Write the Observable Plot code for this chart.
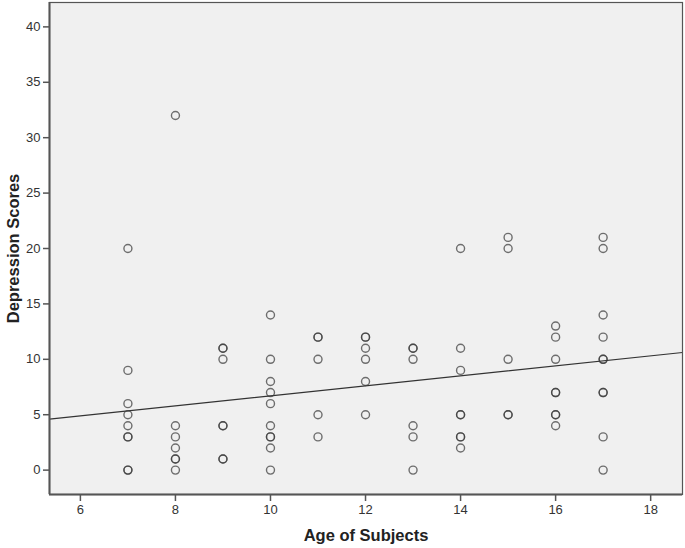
<!DOCTYPE html>
<html>
<head>
<meta charset="utf-8">
<script src="https://cdn.jsdelivr.net/npm/d3@7"></script>
<script src="https://cdn.jsdelivr.net/npm/@observablehq/plot@0.6"></script>
<style>
  html, body { margin: 0; padding: 0; background: #fff; }
  #chart svg { display: block; }
  g[aria-label="x-axis tick label"], g[aria-label="y-axis tick label"],
  g[aria-label="x-axis tick label"] text, g[aria-label="y-axis tick label"] text {
    font-size: 13px; fill: #333;
  }
  g[aria-label="x-axis label"] text, g[aria-label="y-axis label"] text {
    font-weight: bold; font-size: 16.5px; fill: #222;
  }
</style>
</head>
<body>
<div id="chart"></div>
<script>
// Age of subject for each observation
const ages = [
  7,7,7,7,7,7,7,7,7,
  8,8,8,8,8,8,8,
  9,9,9,9,9,9,9,
  10,10,10,10,10,10,10,10,10,10,
  11,11,11,11,11,
  12,12,12,12,12,12,
  13,13,13,13,13,13,
  14,14,14,14,14,14,14,14,
  15,15,15,15,15,
  16,16,16,16,16,16,16,16,
  17,17,17,17,17,17,17,17,17,17
];
// Depression score for each observation (darker circles = repeated values)
const scores = [
  20,9,6,5,4,3,3,0,0,
  32,4,3,2,1,1,0,
  11,11,10,4,4,1,1,
  14,10,8,7,6,4,3,3,2,0,
  12,12,10,5,3,
  12,12,11,10,8,5,
  11,11,10,4,3,0,
  20,11,9,5,5,3,3,2,
  21,20,10,5,5,
  13,12,10,7,7,5,5,4,
  21,20,14,12,10,10,7,7,3,0
];
// Fitted linear regression
const fitIntercept = 2.18;
const fitSlope = 0.452;
// Axis ranges and tick labels
const xDomain = [5.35, 18.67];
const yDomain = [-2.2, 42.2];
const xTicks = [6, 8, 10, 12, 14, 16, 18];
const yTicks = [0, 5, 10, 15, 20, 25, 30, 35, 40];

const data = ages.map((a, i) => ({age: a, score: scores[i]}));
const fitLine = xDomain.map(x => ({age: x, score: fitIntercept + fitSlope * x}));

const chart = Plot.plot({
  width: 685,
  height: 548,
  marginLeft: 49,
  marginRight: 3,
  marginTop: 2,
  marginBottom: 54,
  style: {fontFamily: "'Liberation Sans', Arial, sans-serif", fontSize: "13px", color: "#333", background: "#fff"},
  x: {domain: xDomain},
  y: {domain: yDomain},
  marks: [
    Plot.frame({fill: "#f0f0f0", stroke: "none"}),
    Plot.line(fitLine, {x: "age", y: "score", stroke: "#333", strokeWidth: 1.1}),
    Plot.dot(data, {x: "age", y: "score", r: 4, stroke: "#3a3a3a", strokeOpacity: 0.72, strokeWidth: 1.4, fill: "none"}),
    Plot.frame({stroke: "#555", strokeWidth: 1.2}),
    Plot.ruleX([xDomain[0]], {stroke: "#555", strokeWidth: 2}),
    Plot.ruleY([yDomain[0]], {stroke: "#555", strokeWidth: 2}),
    Plot.axisY(yTicks, {ticks: yTicks, tickSize: 6, tickPadding: 3, stroke: "#555", strokeWidth: 1.5, fontSize: 13,
      label: "Depression Scores", labelAnchor: "center", labelOffset: 42, labelArrow: "none"}),
    Plot.axisX(xTicks, {ticks: xTicks, tickSize: 7, tickPadding: 3, stroke: "#555", strokeWidth: 1.5, fontSize: 13,
      label: "Age of Subjects", labelAnchor: "center", labelOffset: 46, labelArrow: "none"})
  ]
});
document.getElementById("chart").appendChild(chart);
</script>
</body>
</html>
